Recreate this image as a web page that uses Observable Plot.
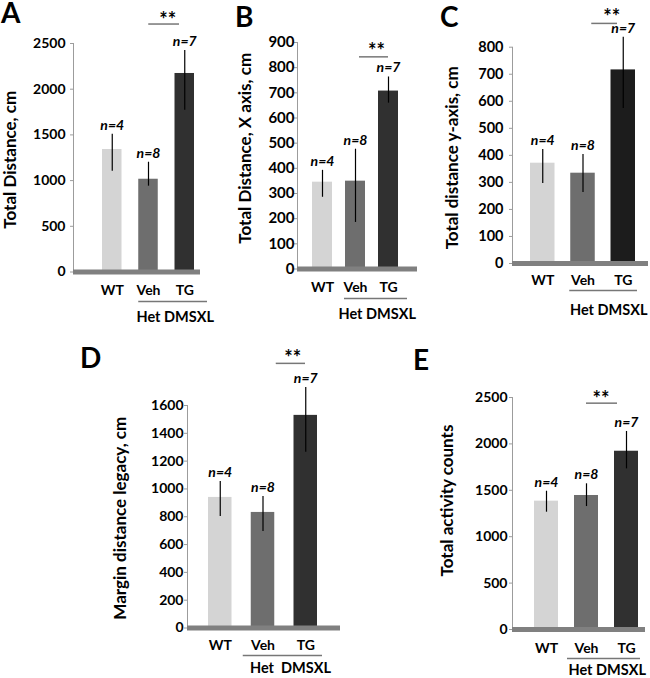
<!DOCTYPE html>
<html>
<head>
<meta charset="utf-8">
<script src="https://cdn.jsdelivr.net/npm/d3@7"></script>
<script src="https://cdn.jsdelivr.net/npm/@observablehq/plot@0.6"></script>
<style>
  body { margin: 0; background: #fff; }
  #fig { position: relative; width: 650px; height: 678px; overflow: hidden; background: #fff; font-family: Lato, "Open Sans", sans-serif; }
  .letter { position: absolute; font-weight: 700; font-size: 28px; line-height: 20px; color: #000; }
</style>
</head>
<body>
<div id="fig"></div>
<script>
// ---- data ----
const groups = ["WT", "Veh", "TG"];
const nLabels = ["n=4", "n=8", "n=7"];
const hetLabel = "Het DMSXL";
const hetLabelD = "Het  DMSXL";

// A: Total Distance
const aMean = [1340, 1015, 2172];
const aLow = [1103, 939, 1769];
const aHigh = [1507, 1201, 2424];
const aTicks = [0, 500, 1000, 1500, 2000, 2500];
const aTitle = "Total Distance, cm";
const aSig = 2713;

// B: Total Distance, X axis
const bMean = [345, 349, 707];
const bLow = [285, 185, 659];
const bHigh = [392, 476, 763];
const bTicks = [0, 100, 200, 300, 400, 500, 600, 700, 800, 900];
const bTitle = "Total Distance, X axis, cm";
const bSig = 843;

// C: Total distance y-axis
const cMean = [371, 334, 716];
const cLow = [296, 263, 573];
const cHigh = [422, 403, 837];
const cTicks = [0, 100, 200, 300, 400, 500, 600, 700, 800];
const cTitle = "Total distance y-axis, cm";
const cSig = 888;

// D: Margin distance legacy
const dMean = [939, 831, 1529];
const dLow = [802, 694, 1263];
const dHigh = [1054, 946, 1730];
const dTicks = [0, 200, 400, 600, 800, 1000, 1200, 1400, 1600];
const dTitle = "Margin distance legacy, cm";
const dSig = 1903;

// E: Total activity counts
const eMean = [1383, 1444, 1921];
const eLow = [1264, 1325, 1731];
const eHigh = [1490, 1570, 2134];
const eTicks = [0, 500, 1000, 1500, 2000, 2500];
const eTitle = "Total activity counts";
const eSig = 2439;

// ---- layout / style ----
const panels = [
  {letter: "A", title: aTitle, mean: aMean, low: aLow, high: aHigh, ticks: aTicks, sig: aSig, het: hetLabel,
   L: {left: 0, top: 0, width: 220, height: 330, axisX: 73, frameRight: 200, yTop: 43, y0: 271.5,
       b0: 102, bN: 194, bw: 19.5, tickGap: 8, tickFont: 14, titleX: 10, titleDy: 2, titleFont: 17,
       xLabDy: 18.5, ulDy: 29.5, ulL: 0, ulR: -13, hetDx: -12, hetDy: 45.5, sigL: 10, sigR: 15,
       starDx: -17, starUp: 8, letterX: 1, letterY: 2, tg: "#303030"}},
  {letter: "B", title: bTitle, mean: bMean, low: bLow, high: bHigh, ticks: bTicks, sig: bSig, het: hetLabel,
   L: {left: 222, top: 0, width: 210, height: 330, axisX: 297, frameRight: 417, yTop: 42, y0: 268.5,
       b0: 312, bN: 398, bw: 20, tickGap: 3, tickFont: 15, titleX: 245.5, titleDy: -7.5, titleFont: 17,
       xLabDy: 18.5, ulDy: 29.5, ulL: -1, ulR: -9, hetDx: -17, hetDy: 45.5, sigL: 14, sigR: 10,
       starDx: -12, starUp: 10, letterX: 235, letterY: 6, tg: "#303030"}},
  {letter: "C", title: cTitle, mean: cMean, low: cLow, high: cHigh, ticks: cTicks, sig: cSig, het: hetLabel,
   L: {left: 432, top: 0, width: 218, height: 330, axisX: 512, frameRight: 648, yTop: 46.7, y0: 263,
       b0: 530, bN: 635, bw: 24.5, tickGap: 9, tickFont: 14.5, titleX: 452, titleDy: 2.5, titleFont: 17,
       xLabDy: 17, ulDy: 27, ulL: -1, ulR: -2, hetDx: -13, hetDy: 47, sigL: 21, sigR: 18,
       starDx: -11.5, starUp: 11, letterX: 440, letterY: 6, tg: "#1c1c1c"}},
  {letter: "D", title: dTitle, mean: dMean, low: dLow, high: dHigh, ticks: dTicks, sig: dSig, het: hetLabelD,
   L: {left: 0, top: 330, width: 350, height: 348, axisX: 187, frameRight: 340, yTop: 405, y0: 627.5,
       b0: 208, bN: 317, bw: 23.5, tickGap: 4, tickFont: 14, titleX: 120, titleDy: 1.5, titleFont: 17,
       xLabDy: 17.5, ulDy: 27.5, ulL: -8, ulR: -5, hetDx: -13, hetDy: 40.5, sigL: 25, sigR: 12,
       starDx: -13, starUp: 10, letterX: 80, letterY: 347, tg: "#303030"}},
  {letter: "E", title: eTitle, mean: eMean, low: eLow, high: eHigh, ticks: eTicks, sig: eSig, het: hetLabel,
   L: {left: 350, top: 330, width: 300, height: 348, axisX: 512, frameRight: 645, yTop: 397, y0: 629,
       b0: 534, bN: 638, bw: 24, tickGap: 5, tickFont: 14, titleX: 447.5, titleDy: -13, titleFont: 17,
       xLabDy: 19, ulDy: 29, ulL: -7, ulR: -2, hetDx: -18, hetDy: 41, sigL: 12, sigR: 21,
       starDx: -25.5, starUp: 9, letterX: 413, letterY: 349, tg: "#303030"}}
];

const fig = document.getElementById("fig");

function render(p) {
  const L = p.L;
  const n = groups.length;
  const step = (L.bN - L.bw - L.b0) / (n - 1);
  const pin = 1 - L.bw / step;
  const R = L.frameRight - L.axisX;
  const pout = Math.max(0, (R / step - n + pin) / 2);
  const align = (L.b0 - L.axisX) / (R - step * (n - pin));
  const rows = groups.map((g, i) => ({g, mean: p.mean[i], low: p.low[i], high: p.high[i], n: nLabels[i]}));
  const ymax = p.ticks[p.ticks.length - 1];

  const svg = Plot.plot({
    width: L.width,
    height: L.height,
    marginLeft: L.axisX - L.left,
    marginRight: L.left + L.width - L.frameRight,
    marginTop: L.yTop - L.top,
    marginBottom: L.top + L.height - L.y0,
    style: {fontFamily: "Lato, 'Open Sans', sans-serif", background: "transparent", overflow: "visible", color: "#9c9c9c"},
    x: {type: "band", domain: groups, paddingInner: pin, paddingOuter: pout, align: Math.min(1, Math.max(0, align)), round: false, axis: null},
    y: {domain: [0, ymax], nice: false, ticks: p.ticks, tickFormat: "d", tickSize: 3, tickPadding: L.tickGap - 3, line: true, label: null},
    color: {type: "ordinal", domain: groups, range: ["#d4d4d4", "#6e6e6e", L.tg]},
    marks: [
      Plot.barY(rows, {x: "g", y: "mean", fill: "g"}),
      Plot.ruleX(rows, {x: "g", y1: "low", y2: "high", stroke: "#000", strokeWidth: 1.2}),
      Plot.ruleY([0], {stroke: "#808080", strokeWidth: 5}),
      Plot.text(rows, {x: "g", y: "high", text: "n", dy: -9, lineAnchor: "middle", fontSize: 14, fontWeight: "bold", fontStyle: "italic", fill: "#000"}),
      Plot.text(rows, {x: "g", text: "g", frameAnchor: "bottom", lineAnchor: "middle", dy: L.xLabDy, fontSize: 14, fontWeight: "bold", fill: "#000"}),
      Plot.ruleY([0], {x1: () => "Veh", x2: () => "TG", dy: L.ulDy, insetLeft: L.ulL, insetRight: L.ulR, stroke: "#777", strokeWidth: 1.3}),
      Plot.text([p.het], {x: () => "Veh", text: d => d, frameAnchor: "bottom", lineAnchor: "middle", dx: L.hetDx, dy: L.hetDy, textAnchor: "start", fontSize: 14.5, fontWeight: "bold", fill: "#000"}),
      Plot.ruleY([p.sig], {x1: () => "Veh", x2: () => "TG", insetLeft: L.sigL, insetRight: L.sigR, stroke: "#777", strokeWidth: 1.5}),
      Plot.text([p.sig], {x: () => "TG", y: d => d, text: () => "**", lineAnchor: "middle", dx: L.starDx, dy: -L.starUp + 5, fontSize: 20, fontWeight: "bold", fill: "#000"}),
      Plot.text([p.title], {text: d => d, frameAnchor: "left", textAnchor: "middle", lineAnchor: "middle", rotate: -90, dx: L.titleX - L.axisX, dy: L.titleDy, fontSize: L.titleFont, fontWeight: "bold", fill: "#000"})
    ]
  });
  // style the y axis produced by Plot: gray line and ticks, bold black labels
  const sel = d3.select(svg);
  sel.selectAll('[aria-label^="y-axis"] path, [aria-label^="y-axis"] line').attr("stroke", "#9c9c9c");
  sel.selectAll('[aria-label^="y-axis"] text')
    .attr("fill", "#000")
    .style("fill", "#000")
    .style("font-size", L.tickFont + "px")
    .style("font-weight", "bold");
  svg.style.position = "absolute";
  svg.style.left = L.left + "px";
  svg.style.top = L.top + "px";
  fig.appendChild(svg);

  const lt = document.createElement("div");
  lt.className = "letter";
  lt.textContent = p.letter;
  lt.style.left = L.letterX + "px";
  lt.style.top = L.letterY + "px";
  fig.appendChild(lt);
}

panels.forEach(render);
</script>
</body>
</html>
